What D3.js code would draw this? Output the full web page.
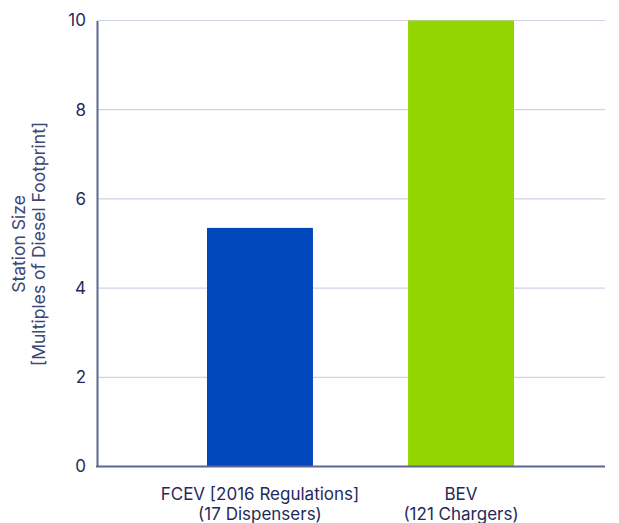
<!DOCTYPE html>
<html>
<head>
<meta charset="utf-8">
<script src="https://cdn.jsdelivr.net/npm/d3@7"></script>
<style>
  body { margin: 0; background: #fff; }
  text { font-family: Inter, "Noto Sans", sans-serif; }
</style>
</head>
<body>
<div id="chart-area"></div>
<script>
// chart data
var categories = ["FCEV [2016 Regulations]", "BEV"];
var subLabels = ["(17 Dispensers)", "(121 Chargers)"];
var stationSize = [5.35, 10];
var yTicks = [0, 2, 4, 6, 8, 10];
var barColours = ["#0047bb", "#93d500"];

var W = 619, H = 523;
var margin = { left: 97, top: 21, bottom: 57 };
var plotRight = 605;

var svg = d3.select("#chart-area")
    .append("svg")
    .attr("width", W)
    .attr("height", H);

var y = d3.scaleLinear()
    .domain([0, 10])
    .range([H - margin.bottom + 0.5, margin.top - 0.5]);

var x = d3.scaleBand()
    .domain(categories)
    .range([margin.left, 624])
    .paddingInner(0.473)
    .paddingOuter(0.547);

// gridlines
svg.append("g")
    .selectAll("line")
    .data(yTicks.filter(d => d > 0))
    .enter()
    .append("line")
    .attr("x1", margin.left)
    .attr("x2", plotRight)
    .attr("y1", d => y(d))
    .attr("y2", d => y(d))
    .attr("stroke", "#cfd3e3")
    .attr("stroke-width", 1.2);

// bars
svg.append("g")
    .selectAll("rect")
    .data(stationSize)
    .enter()
    .append("rect")
    .attr("x", (d, i) => x(categories[i]))
    .attr("y", d => y(d))
    .attr("width", x.bandwidth())
    .attr("height", d => y(0) - y(d))
    .attr("fill", (d, i) => barColours[i]);

// Y axis
var yAxis = d3.axisLeft(y).tickValues(yTicks).tickSize(0).tickPadding(11);
var yG = svg.append("g")
    .attr("transform", "translate(" + margin.left + ",0)")
    .call(yAxis);
yG.select(".domain").attr("stroke", "#5f6791").attr("stroke-width", 2);
yG.selectAll("text")
    .attr("fill", "#1f2a5c")
    .style("font-size", "17px");

// X axis line
svg.append("line")
    .attr("x1", margin.left - 1)
    .attr("x2", plotRight)
    .attr("y1", y(0))
    .attr("y2", y(0))
    .attr("stroke", "#5f6791")
    .attr("stroke-width", 2);

// X labels
var xl = svg.append("g");
categories.forEach(function(c, i){
    var cx = x(c) + x.bandwidth() / 2;
    xl.append("text")
        .attr("x", cx)
        .attr("y", 500)
        .attr("text-anchor", "middle")
        .attr("fill", "#1f2a5c")
        .style("font-size", "17px")
        .text(c);
    xl.append("text")
        .attr("x", cx)
        .attr("y", 520)
        .attr("text-anchor", "middle")
        .attr("fill", "#1f2a5c")
        .style("font-size", "17px")
        .text(subLabels[i]);
});

// Y axis title
var yt = svg.append("text")
    .attr("transform", "translate(0," + 244 + ") rotate(-90)")
    .attr("text-anchor", "middle")
    .attr("fill", "#3d4775")
    .style("font-size", "17.5px");
yt.append("tspan").attr("x", 0).attr("y", 25).text("Station Size");
yt.append("tspan").attr("x", 0).attr("y", 45).text("[Multiples of Diesel Footprint]");
</script>
</body>
</html>
